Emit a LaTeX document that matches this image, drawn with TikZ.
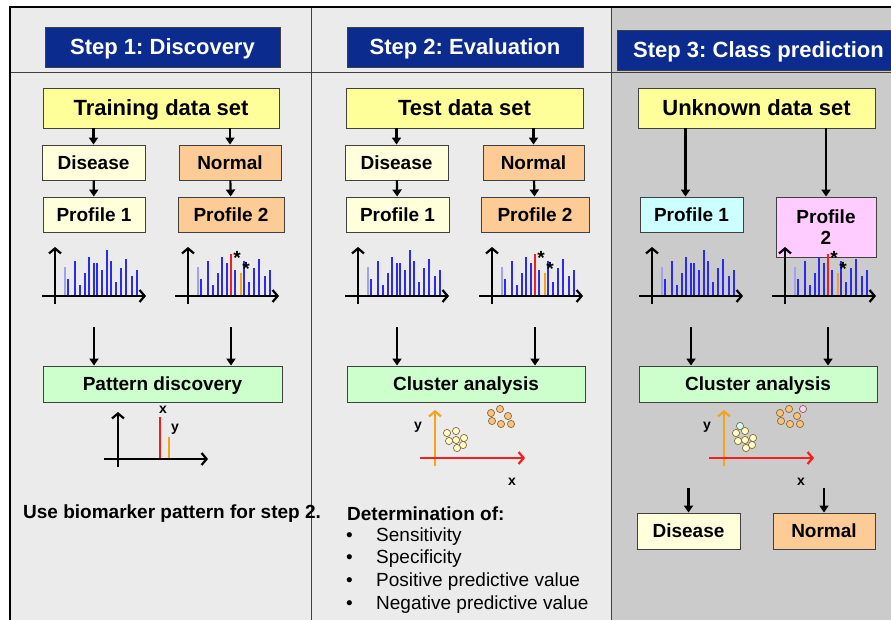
\documentclass[tikz,border=0pt]{standalone}
\usepackage{fontspec}
\setmainfont{Liberation Sans}
\frenchspacing
\usetikzlibrary{arrows.meta,positioning}
\definecolor{stepblue}{HTML}{0B2C8E}
\definecolor{setyellow}{HTML}{FFFF99}
\definecolor{disfill}{HTML}{FFFFDC}
\definecolor{normfill}{HTML}{FDCB95}
\definecolor{greenfill}{HTML}{CCFFCC}
\definecolor{cyanfill}{HTML}{CCFFFF}
\definecolor{pinkfill}{HTML}{FFCCFF}
\definecolor{panelgray}{HTML}{EBEBEB}
\definecolor{darkpanel}{HTML}{CBCBCB}
\definecolor{peakblue}{HTML}{2B2BF0}
\definecolor{axisorange}{HTML}{F7A21B}
\definecolor{axisred}{HTML}{F41E1E}
\definecolor{dotyellow}{HTML}{FFFFCC}
\definecolor{dotorange}{HTML}{F7C37E}
\definecolor{dotedge}{HTML}{8A6A3A}
\tikzset{
	basebox/.style={draw=black!75, line width=0.9pt, inner sep=0pt, minimum height=35pt, font=\bfseries\fontsize{19}{21}\selectfont},
	box/.style={basebox, text height=13.6pt, text depth=0pt},
	headbox/.style={box, fill=stepblue, text=white, minimum height=40pt, text height=15.8pt, font=\bfseries\fontsize{22}{24}\selectfont},
	setbox/.style={box, fill=setyellow, minimum height=40pt, text height=15.8pt, font=\bfseries\fontsize{22}{24}\selectfont},
	disbox/.style={box, fill=disfill},
	normbox/.style={box, fill=normfill},
	anabox/.style={box, fill=greenfill, minimum height=36pt},
	flow/.style={-{Triangle[length=7pt,width=9pt]}, line width=2.2pt},
	axis/.style={-{Straight Barb[length=5pt,width=12pt]}, line width=2.2pt},
	peak/.style={peakblue, line width=1.1pt},
	dot/.style={draw=dotedge, line width=0.7pt},
	lbl/.style={inner sep=0pt, font=\bfseries\fontsize{14}{15}\selectfont},
	starlbl/.style={inner sep=0pt, anchor=north, font=\bfseries\fontsize{19}{19}\selectfont},
	txt/.style={anchor=west, inner sep=0pt, font=\fontsize{19}{21}\selectfont},
}
% spectrum: #1 origin x, #2 name, #3 = 1 for marked peaks
\newcommand{\spectrum}[3]{
	\begin{scope}[shift={(#1,296)}]
		\draw[peak, peakblue!45] (10,0) -- (10,-29);
		\foreach \dx/\h in {13/17,20/35,25/11,30/23,34/39,39/33,47/26,56/35,61/14,66/28,71/37,77/20,82/26}
			\draw[peak] (\dx,0) -- (\dx,-\h);
		\ifnum#3=1
			\draw[peak, axisred] (43,0) -- (43,-42);
			\draw[peak, axisorange] (53,0) -- (53,-23);
			\node[starlbl] (#2-s1) at (49,-45) {*};
			\node[starlbl] (#2-s2) at (58,-34) {*};
			\coordinate (#2) at (43,31);
		\else
			\draw[peak] (42,0) -- (42,-33);
			\draw[peak] (52,0) -- (52,-46);
			\coordinate (#2) at (39,31);
		\fi
		\draw[axis] (-13,0) -- (91,0);
		\draw[axis] (0,8) -- (0,-49);
	\end{scope}
}
% scatter: #1 origin x, #2 name
\newcommand{\scatter}[2]{
	\begin{scope}[shift={(#1,458)}]
		\foreach \dx/\dy in {-9/-5,0/-7,8/0,-7/3,0/2,7/7,1/10}
			\draw[dot, fill=dotyellow] (21+\dx,-20+\dy) circle (3.6);
		\foreach \dx/\dy in {-10/-5,-1/-9,7/-2,-9/3,0/6,10/6}
			\draw[dot, fill=dotorange] (66+\dx,-40+\dy) circle (3.6);
		\draw[axis, axisorange] (0,8) -- (0,-48);
		\draw[axis, axisred] (-15,0) -- (90,0);
		\node[lbl] (#2-y) at (-17,-31) {y};
		\node[lbl] (#2-x) at (77,24) {x};
	\end{scope}
}

\begin{document}
\begin{tikzpicture}[x=1pt,y=-1pt]
	%%%%% START %%%%%
	\useasboundingbox (0,0) rectangle (891,620);
	\fill[white] (0,0) rectangle (891,620);
	\fill[panelgray] (10,7) rectangle (611,620);
	\fill[darkpanel] (611,7) rectangle (891,620);
	\draw[line width=0.9pt, black!75] (10,72) -- (891,72);
	\draw[line width=0.9pt, black!75] (311,7) -- (311,620);
	\draw[line width=0.9pt, black!75] (611,7) -- (611,620);
	\draw[line width=2.4pt] (10,620) -- (10,7) -- (891,7);

	% step 1
	\node[headbox, minimum width=235pt] (head1) at (162.5,47) {Step 1: Discovery};
	\node[setbox, minimum width=236pt] (train) at (161,108) {Training data set};
	\node[disbox, minimum width=103pt] (dis1) at (93.5,162.5) {Disease};
	\node[normbox, minimum width=102pt] (norm1) at (230,162.5) {Normal};
	\node[disbox, minimum width=102pt] (prof1a) at (94,214.5) {Profile 1};
	\node[normbox, minimum width=106pt] (prof1b) at (231,214.5) {Profile 2};
	\node[anabox, minimum width=239pt] (pattern) at (162.5,384) {Pattern discovery};
	\draw[flow] (dis1 |- train.south) -- (dis1);
	\draw[flow] (norm1 |- train.south) -- (norm1);
	\draw[flow] (dis1) -- (prof1a);
	\draw[flow] (norm1) -- (prof1b);
	\spectrum{55}{sp1a}{0}
	\spectrum{188}{sp1b}{1}
	\draw[flow] (sp1a) -- (sp1a |- pattern.north);
	\draw[flow] (sp1b) -- (sp1b |- pattern.north);
	\begin{scope}[shift={(118,459)}]
		\draw[line width=1.2pt, axisred] (42,0) -- (42,-42);
		\draw[line width=1.2pt, axisorange] (51,0) -- (51,-22);
		\draw[axis] (-14,0) -- (90,0);
		\draw[axis] (0,8) -- (0,-47);
		\node[lbl] (pat-x) at (45,-49) {x};
		\node[lbl] (pat-y) at (57,-30) {y};
	\end{scope}
	\node[txt, font=\bfseries\fontsize{19}{21}\selectfont] (use) at (23,514) {Use biomarker pattern for step 2.};

	% step 2
	\node[headbox, minimum width=236pt] (head2) at (465,47) {Step 2: Evaluation};
	\node[setbox, minimum width=237pt] (test) at (464.5,108) {Test data set};
	\node[disbox, minimum width=103pt] (dis2) at (396.5,162.5) {Disease};
	\node[normbox, minimum width=101pt] (norm2) at (533.5,162.5) {Normal};
	\node[disbox, minimum width=103pt] (prof2a) at (397.5,214.5) {Profile 1};
	\node[normbox, minimum width=108pt] (prof2b) at (535,214.5) {Profile 2};
	\node[anabox, minimum width=238pt] (clus2) at (466,384) {Cluster analysis};
	\draw[flow] (dis2 |- test.south) -- (dis2);
	\draw[flow] (norm2 |- test.south) -- (norm2);
	\draw[flow] (dis2) -- (prof2a);
	\draw[flow] (norm2) -- (prof2b);
	\spectrum{358}{sp2a}{0}
	\spectrum{492}{sp2b}{1}
	\draw[flow] (sp2a) -- (sp2a |- clus2.north);
	\draw[flow] (sp2b) -- (sp2b |- clus2.north);
	\scatter{435}{sc2}
	\node[txt, font=\bfseries\fontsize{19}{21}\selectfont] (det) at (347,514) {Determination of:};
	\foreach \y/\t [count=\i] in {537/Sensitivity,559/Specificity,582/Positive predictive value,605/Negative predictive value} {
		\node[txt] (bul\i) at (346,\y) {•};
		\node[txt] (item\i) at (376,\y) {\t};
	}

	% step 3
	\node[headbox, minimum width=283pt] (head3) at (758.5,50) {Step 3: Class prediction};
	\node[setbox, minimum width=237pt] (unknown) at (756.5,108) {Unknown data set};
	\node[box, fill=cyanfill, minimum width=103pt] (prof3a) at (691.5,214.5) {Profile 1};
	\node[basebox, fill=pinkfill, minimum width=100pt, minimum height=60pt, align=center] (prof3b) at (826,227) {Profile\\2};
	\node[anabox, minimum width=238pt] (clus3) at (758,384) {Cluster analysis};
	\draw[flow] ([xshift=-6pt]prof3a.north |- unknown.south) -- ([xshift=-6pt]prof3a.north);
	\draw[flow] (prof3b |- unknown.south) -- (prof3b);
	\spectrum{652}{sp3a}{0}
	\spectrum{785}{sp3b}{1}
	\draw[flow] (sp3a) -- (sp3a |- clus3.north);
	\draw[flow] (sp3b) -- (sp3b |- clus3.north);
	\scatter{724}{sc3}
	\draw[dot, fill=cyanfill] (740,426) circle (3.6);
	\draw[dot, fill=pinkfill] (803,409) circle (3.6);
	\node[disbox, minimum width=103pt, minimum height=36pt] (dis3) at (688.5,531) {Disease};
	\node[normbox, minimum width=102pt, minimum height=36pt] (norm3) at (824,531) {Normal};
	\coordinate (d3top) at (688.5,488);
	\coordinate (n3top) at (824,488);
	\draw[flow] (d3top) -- (dis3);
	\draw[flow] (n3top) -- (norm3);
	%%%%% END %%%%%
\end{tikzpicture}
\end{document}
